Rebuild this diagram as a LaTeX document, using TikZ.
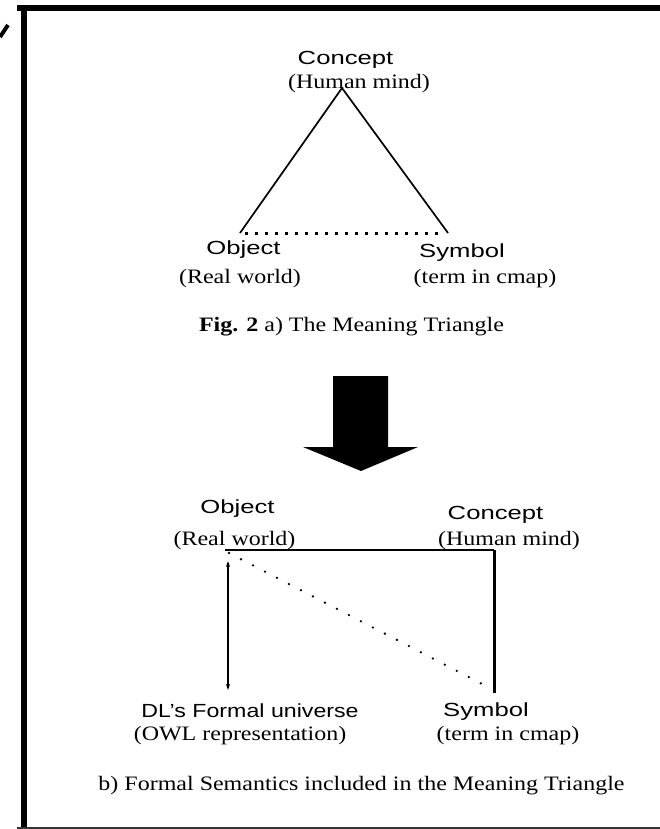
\documentclass[tikz,border=0pt]{standalone}
\usepackage{fontspec}
\newfontfamily\termfont[FakeStretch=1.35]{Liberation Sans}
\newfontfamily\termfontnarrow[FakeStretch=1.22]{Liberation Sans}
\newfontfamily\glossfont[FakeStretch=1.17]{Liberation Serif}
\usetikzlibrary{math,arrows.meta}
\tikzset{%
  page/.style={x=1pt,y=-1pt},
  term/.style={font=\termfont\fontsize{19}{22}\selectfont,inner sep=0pt,anchor=base},
  gloss/.style={font=\glossfont\fontsize{20.5}{24}\selectfont,inner sep=0pt,anchor=base},
  edge line/.style={line width=1.7pt},
  dot base/.style={line width=3pt,dash pattern=on 3pt off 7pt},
  dot diag/.style={line width=2.6pt,line cap=round,dash pattern=on 0pt off 13.5pt},
  frame line/.style={line width=6pt}
}

\begin{document}
\begin{tikzpicture}[page]
    \useasboundingbox (0,0) rectangle (660,829);
    \tikzmath{
      \ya=233;% base of triangle a)
      \yb=550;% top side of part b)
      \xr=494;% right side of part b)
    }
    % Frame.
    \draw[frame line] (17,8) -- (663,8);
    \draw[frame line] (24,5) -- (24,832);
    \draw[line width=1.5pt,color=black!80] (17,828) -- (660,828);
    \draw[line width=4pt] (0,37) -- (8,25);
    % Part a): the meaning triangle.
    \coordinate (apex) at (342,88);
    \coordinate (objA) at (240,\ya);
    \coordinate (symA) at (448,\ya);
    \draw[edge line] (objA) -- (apex) -- (symA);
    \draw[dot base] (245,\ya) -- (441,\ya);
    \node[term]  (conceptA) at (345.5,65) {Concept};
    \node[gloss] (mindA)    at (359,89)   {(Human mind)};
    \node[term]  (objectA)  at (243.5,254) {Object};
    \node[gloss] (worldA)   at (240,283)  {(Real world)};
    \node[term]  (symbolA)  at (462,257)  {Symbol};
    \node[gloss] (cmapA)    at (485,283)  {(term in cmap)};
    \node[gloss] (figA)     at (351.5,331) {{\bfseries Fig. 2} a) The Meaning Triangle};
    % Block arrow between the two parts.
    \fill (333,376) -- (388,376) -- (388,447) -- (418,447) -- (361,471)
      -- (303,447) -- (333,447) -- cycle;
    % Part b): formal semantics.
    \coordinate (objB) at (225,\yb);
    \coordinate (conB) at (\xr,\yb);
    \coordinate (symB) at (\xr,693);
    \coordinate (dlTop) at (228,561);
    \coordinate (dlBot) at (228,690);
    \draw[edge line] (objB) -- (conB);
    \draw[line width=3pt] (conB) -- (symB);
    \draw[dot diag] (229,553) -- (488,687);
    \draw[line width=1.5pt,{Stealth[length=6pt,width=4pt]}-{Stealth[length=6pt,width=4pt]}]
      (dlTop) -- (dlBot);
    \node[term]  (objectB)  at (237.5,513) {Object};
    \node[gloss] (worldB)   at (234.5,545) {(Real world)};
    \node[term]  (conceptB) at (495.5,519) {Concept};
    \node[gloss] (mindB)    at (509,545)   {(Human mind)};
    \node[term,font=\termfontnarrow\fontsize{19}{22}\selectfont]
                 (dlB)      at (250,717)   {DL’s Formal universe};
    \node[gloss] (owlB)     at (240,740)   {(OWL representation)};
    \node[term]  (symbolB)  at (486,716)   {Symbol};
    \node[gloss] (cmapB)    at (508,740)   {(term in cmap)};
    \node[gloss] (figB)     at (361.5,790) {b) Formal Semantics included in the Meaning Triangle};
\end{tikzpicture}
\end{document}
